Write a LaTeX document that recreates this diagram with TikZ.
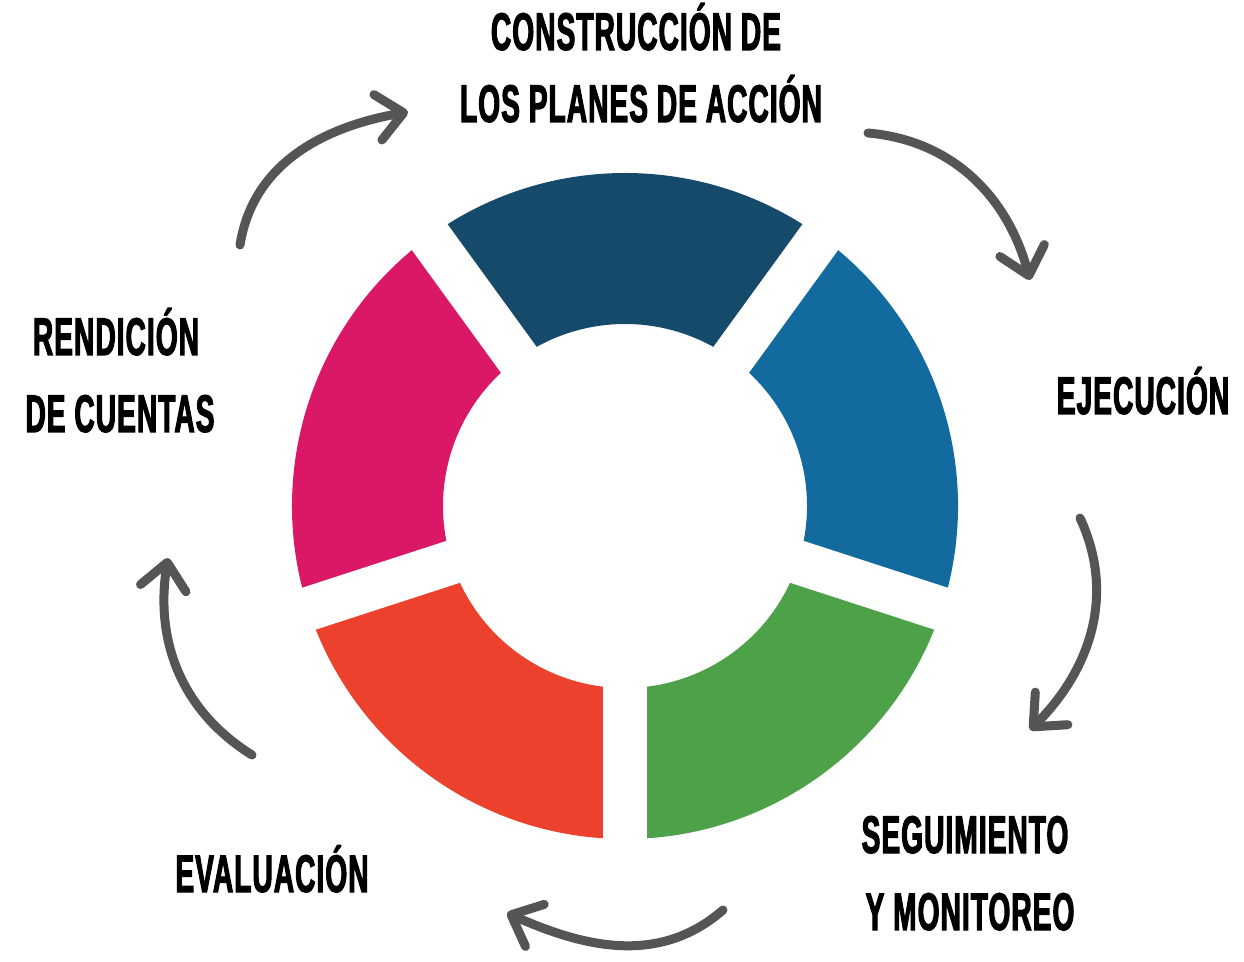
\documentclass[tikz,border=0pt]{standalone}
\usepackage{fontspec}
\usetikzlibrary{arrows.meta}
\newfontfamily\stagefont{Liberation Sans}[FakeStretch=0.53, FakeBold=2, LetterSpace=2]
\definecolor{planblue}{HTML}{164A6B}
\definecolor{execblue}{HTML}{136A9E}
\definecolor{trackgreen}{HTML}{4DA148}
\definecolor{evalred}{HTML}{EC412D}
\definecolor{reportpink}{HTML}{DB1768}
\definecolor{arrowgray}{HTML}{555555}
\tikzset{
	stage/.style={font=\stagefont\bfseries\fontsize{53}{60}\selectfont, anchor=base, inner sep=0pt},
	cyclearrow/.style={draw=arrowgray, line width=9pt, line cap=round,
		-{Straight Barb[length=26pt, width=46pt, round]}},
	ringgap/.style={draw=white, line width=44pt},
}
\begin{document}
\begin{tikzpicture}[x=1pt, y=1pt]
	\useasboundingbox (0,0) rectangle (1244,961);
	\begin{scope}[shift={(625,455)}]
	\fill[planblue] (54:333) arc[start angle=54, end angle=126, radius=333]
		-- (126:182) arc[start angle=126, end angle=54, radius=182] -- cycle;
	\fill[reportpink] (126:333) arc[start angle=126, end angle=198, radius=333]
		-- (198:182) arc[start angle=198, end angle=126, radius=182] -- cycle;
	\fill[evalred] (198:333) arc[start angle=198, end angle=270, radius=333]
		-- (270:182) arc[start angle=270, end angle=198, radius=182] -- cycle;
	\fill[trackgreen] (270:333) arc[start angle=270, end angle=342, radius=333]
		-- (342:182) arc[start angle=342, end angle=270, radius=182] -- cycle;
	\fill[execblue] (-18:333) arc[start angle=-18, end angle=54, radius=333]
		-- (54:182) arc[start angle=54, end angle=-18, radius=182] -- cycle;
	\draw[ringgap] (0,0) -- (54:360);
	\draw[ringgap] (0,0) -- (126:360);
	\draw[ringgap] (0,0) -- (198:360);
	\draw[ringgap] (0,0) -- (270:360);
	\draw[ringgap] (0,0) -- (342:360);
	\end{scope}
	\node[stage] (plan1) at (636,911) {CONSTRUCCIÓN DE};
	\node[stage] (plan2) at (641,839) {LOS PLANES DE ACCIÓN};
	\node[stage] (exec) at (1143,547) {EJECUCIÓN};
	\node[stage] (track1) at (965,108) {SEGUIMIENTO};
	\node[stage] (track2) at (970,31) {Y MONITOREO};
	\node[stage] (eval) at (272,69) {EVALUACIÓN};
	\node[stage] (report1) at (116,606) {RENDICIÓN};
	\node[stage] (report2) at (120,529) {DE CUENTAS};
	\coordinate (reportout) at (240,716);
	\coordinate (planin) at (408,849);
	\coordinate (planout) at (868,828);
	\coordinate (execin) at (1030,681);
	\coordinate (execout) at (1080,443);
	\coordinate (trackin) at (1030,231);
	\coordinate (trackout) at (723,51);
	\coordinate (evalin) at (507,48);
	\coordinate (evalout) at (252,206);
	\coordinate (reportin) at (168,403);
	\draw[cyclearrow] (reportout) to[out=81, in=190] (planin);
	\draw[cyclearrow] (planout) to[out=-5, in=105] (execin);
	\draw[cyclearrow] (execout) to[out=-65, in=45] (trackin);
	\draw[cyclearrow] (trackout) to[out=221, in=336] (evalin);
	\draw[cyclearrow] (evalout) to[out=148, in=261] (reportin);
\end{tikzpicture}
\end{document}
